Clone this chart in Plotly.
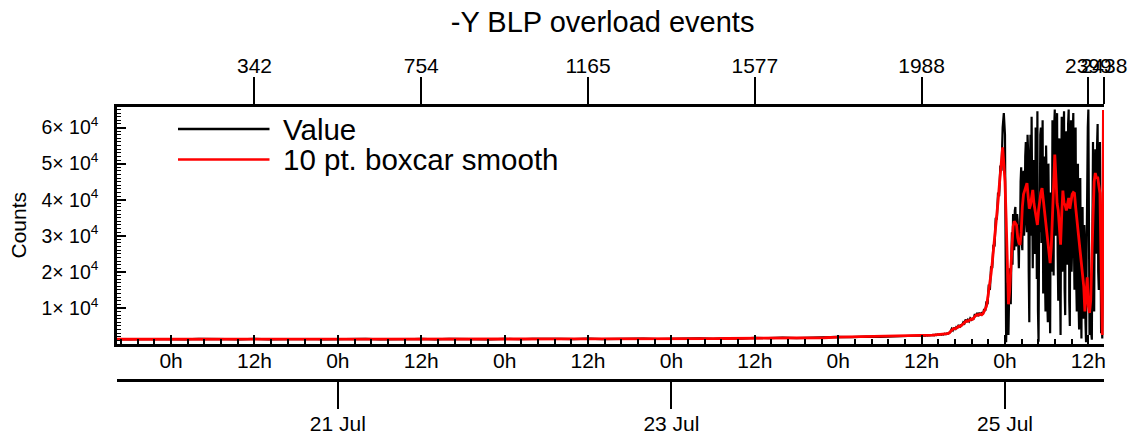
import pandas as pd
import plotly.graph_objects as go

# 2-hourly samples, 19 Jul 16:00 .. 24 Jul 10:00
value_a = [1350, 1260, 1380, 1290,
           1370, 1280, 1390, 1270, 1360, 1300, 1400, 1290, 1380, 1270, 1370, 1300,
           1390, 1290, 1410, 1300, 1400, 1310, 1390, 1290, 1410, 1320, 1400, 1300,
           1420, 1310, 1430, 1330, 1420, 1340, 1460, 1340, 1450, 1360, 1480, 1380,
           1500, 1420, 1540, 1450, 1580, 1480, 1710, 1600, 1730, 1640, 1760, 1670,
           1960, 1880, 2060, 1990, 2160, 2130]
smooth_a = [1310, 1300, 1320, 1310,
            1320, 1310, 1330, 1320, 1330, 1320, 1330, 1340, 1330, 1320, 1330, 1340,
            1340, 1330, 1350, 1340, 1350, 1360, 1350, 1340, 1350, 1360, 1350, 1360,
            1370, 1360, 1370, 1380, 1370, 1390, 1400, 1390, 1400, 1410, 1420, 1430,
            1450, 1470, 1480, 1500, 1520, 1530, 1650, 1660, 1680, 1690, 1700, 1720,
            1900, 1950, 2000, 2050, 2100, 2200]

# Value, 10-minute samples, 24 Jul 12:00 .. 23:50
value_b = [2350, 2230, 2380, 2270, 2400, 2300,
           2440, 2350, 2480, 2390, 2530, 2420,
           2580, 2470, 2620, 2520, 2680, 2560,
           2740, 2640, 2820, 2700, 2930, 2880,
           3300, 3400, 4200, 3800, 4600, 3900,
           4700, 4500, 5300, 4600, 5200, 5200,
           6000, 5700, 6800, 6100, 6700, 6300,
           7100, 6700, 7000, 7000, 8300, 7700,
           8600, 7700, 8700, 8000, 8500, 8200,
           9700, 9200, 11800, 11000, 16500, 15000,
           21500, 21000, 27500, 27000, 35000, 34500,
           42000, 41000, 49500, 48000, 60000, 64000]

# Value, 5-minute samples, 25 Jul 00:00 .. 14:10
value_c = [58000, 30000, 500, 8000, 17000, 6000, 2500, 12000, 21000, 15000, 11000, 24000,
           31000, 22000, 36000, 30000, 26000, 37000, 38000, 27000, 30000, 36000, 34000, 25000,
           21000, 33000, 30000, 45000, 49000, 28000, 26000, 44000, 48000, 30000, 34000, 52000,
           56000, 36000, 31000, 58000, 53000, 20000, 6000, 45000, 58000, 30000, 63000, 40000,
           21000, 48000, 51000, 25000, 27000, 60000, 55000, 18000, 64500, 9000, 600, 35000,
           31000, 58000, 60000, 28000, 45000, 62000, 14000, 40000, 52000, 20000, 9000, 55000,
           44000, 12000, 6000, 50000, 38000, 15000, 3000, 42000, 40000, 20000, 62000, 35000,
           19000, 60000, 65000, 30000, 41000, 63000, 64000, 25000, 12000, 50000, 57000, 18000,
           2500, 45000, 63000, 20000, 30000, 58000, 64500, 15000, 8000, 55000, 59000, 28000,
           22000, 61000, 65000, 12000, 5000, 50000, 62000, 20000, 27000, 58000, 64000, 30000,
           15000, 52000, 60000, 18000, 9000, 47000, 50000, 12000, 4000, 40000, 46000, 20000,
           1500, 30000, 38000, 12000, 7000, 33000, 28000, 6000, 500, 25000, 52000, 60000,
           65000, 20000, 2500, 6000, 10000, 3000, 1200, 30000, 56000, 20000, 9000, 40000,
           54000, 25000, 30000, 55000, 61000, 20000, 15000, 45000, 56000, 28000, 3000, 8000,
           1500, 30000, 60000]

# smooth, 10-minute samples, 24 Jul 12:00 .. 25 Jul 14:10
smooth_b = [2280, 2300, 2310, 2330, 2340, 2360,
            2380, 2400, 2420, 2440, 2460, 2480,
            2500, 2520, 2550, 2580, 2600, 2630,
            2660, 2700, 2740, 2780, 2850, 2950,
            3100, 3500, 3900, 4100, 4300, 4200,
            4400, 4700, 4900, 4800, 5000, 5300,
            5600, 5900, 6300, 6400, 6300, 6500,
            6700, 6900, 6800, 7200, 7700, 8000,
            8100, 8000, 8200, 8300, 8100, 8400,
            9000, 9600, 10400, 12500, 14500, 16500,
            19500, 22500, 25500, 28500, 32500, 36000,
            39500, 43500, 47000, 52000, 54500, 50000,
            # 25 Jul
            45000, 35000, 22000, 11000, 14500, 19500,
            26000, 32500, 34000, 33500, 33000, 29500,
            28000, 27500, 31000, 38000, 41500, 42500,
            44000, 44600, 41000, 37500, 38500, 41500,
            42700, 39000, 36500, 34500, 33000, 37000,
            40000, 42000, 43200, 40000, 37200, 35000,
            31000, 28000, 24000, 22400, 27000, 36000,
            47000, 52500, 46000, 39000, 37000, 33000,
            27500, 36000, 42500, 39000, 38500, 37000,
            39500, 40500, 37500, 39500, 41500, 42000,
            41800, 38000, 35000, 31000, 29000, 25000,
            22500, 20600, 16000, 9000, 14000, 18500,
            10500, 8600, 12000, 21000, 35000, 45000,
            47400, 46000, 46400, 44000, 41800, 22000,
            2500, 64500]

last_time = "2013-07-25 14:15"
last_value = 64500
last_smooth = 64500

x_start = "2013-07-19 16:13"
x_end = last_time

# top axis: sample index at 12h marks
index_times = ["2013-07-20 12:00", "2013-07-21 12:00", "2013-07-22 12:00",
               "2013-07-23 12:00", "2013-07-24 12:00", "2013-07-25 12:00",
               last_time]
index_labels = ["342", "754", "1165", "1577", "1988", "2399", "2438"]

y_ticks = [10000, 20000, 30000, 40000, 50000, 60000]
y_labels = [f"{v // 10000}× 10<sup>4</sup>" for v in y_ticks]

times_a = list(pd.date_range("2013-07-19 16:00", periods=len(value_a), freq="2h"))
value_times = (times_a
               + list(pd.date_range("2013-07-24 12:00", periods=len(value_b), freq="10min"))
               + list(pd.date_range("2013-07-25 00:00", periods=len(value_c), freq="5min"))
               + [pd.Timestamp(last_time)])
smooth_times = (times_a
                + list(pd.date_range("2013-07-24 12:00", periods=len(smooth_b), freq="10min"))
                + [pd.Timestamp(last_time)])
values = value_a + value_b + value_c + [last_value]
smooth = smooth_a + smooth_b + [last_smooth]

FONT = "Liberation Sans, Arial, sans-serif"
HOUR = 3600 * 1000

fig = go.Figure()
fig.add_trace(go.Scatter(x=value_times, y=values, mode="lines", name="Value",
                         line=dict(color="black", width=2.2)))
fig.add_trace(go.Scatter(x=smooth_times, y=smooth, mode="lines",
                         name="10 pt. boxcar smooth",
                         line=dict(color="red", width=2.8)))
# empty traces so the extra axes get drawn
fig.add_trace(go.Scatter(x=times_a[:1], y=values[:1], mode="lines",
                         xaxis="x2", showlegend=False, hoverinfo="skip"))
fig.add_trace(go.Scatter(x=times_a[:1], y=values[:1], mode="lines",
                         xaxis="x3", showlegend=False, hoverinfo="skip"))

axis_common = dict(showgrid=False, zeroline=False, showline=True,
                   linecolor="black", linewidth=2.5, tickcolor="black",
                   tickwidth=2, range=[x_start, x_end], type="date",
                   tickfont=dict(size=21, color="black"), tickangle=0,
                   automargin=False)

fig.update_layout(
    width=1137, height=443,
    margin=dict(l=117, r=33, t=107, b=63),
    paper_bgcolor="white", plot_bgcolor="white",
    font=dict(family=FONT, color="black"),
    showlegend=False,
    title=dict(text="-Y BLP overload events", x=0.53, xref="container",
               xanchor="center", y=0.95, yanchor="middle",
               font=dict(size=29, color="black")),
    xaxis=dict(axis_common, anchor="y", ticks="inside", ticklen=9,
               dtick=12 * HOUR, tick0="2013-07-20", tickformat="%-Hh",
               ticklabelstandoff=-4,
               minor=dict(dtick=2.4 * HOUR, tick0="2013-07-20",
                          ticks="inside", ticklen=5, tickwidth=1.5,
                          tickcolor="black")),
    xaxis2=dict(axis_common, overlaying="x", side="top", anchor="y",
                ticks="outside", ticklen=27, tickvals=index_times,
                ticktext=index_labels, ticklabelstandoff=-4),
    xaxis3=dict(axis_common, overlaying="x", anchor="free", position=0,
                side="bottom", ticks="outside", ticklen=27,
                dtick=48 * HOUR, tick0="2013-07-21", tickformat="%-d %b",
                ticklabelstandoff=-3),
    yaxis=dict(domain=[0.132, 1], range=[0, 65700], showgrid=False,
               zeroline=False, showline=True, linecolor="black",
               linewidth=2.5, ticks="inside", ticklen=9, tickwidth=2,
               tickcolor="black", tickvals=y_ticks, ticktext=y_labels,
               tickfont=dict(size=19.5, color="black"), ticklabelstandoff=12,
               automargin=False,
               minor=dict(dtick=1000, ticks="inside", ticklen=4,
                          tickwidth=1.2, tickcolor="black")),
)

# legend drawn by hand (long line samples, like the original)
legend_items = [("Value", "black", 0.9194), ("10 pt. boxcar smooth", "red", 0.8077)]
for label, color, ypos in legend_items:
    fig.add_shape(type="line", xref="paper", yref="paper",
                  x0=0.0618, x1=0.1545, y0=ypos, y1=ypos,
                  line=dict(color=color, width=2.5))
    fig.add_annotation(text=label, xref="paper", yref="paper",
                       x=0.1662, y=ypos, xanchor="left", yanchor="middle",
                       showarrow=False, font=dict(size=29.5, color="black"))

fig.add_annotation(text="Counts", xref="paper", yref="paper", x=-0.1003,
                   y=0.566, textangle=-90, showarrow=False,
                   xanchor="center", yanchor="middle",
                   font=dict(size=21, color="black"))

# drop the default 8px body margin so the figure fills the window exactly
fig.write_html("out.html", config={"displayModeBar": False},
               post_script="document.body.style.margin = '0';")
